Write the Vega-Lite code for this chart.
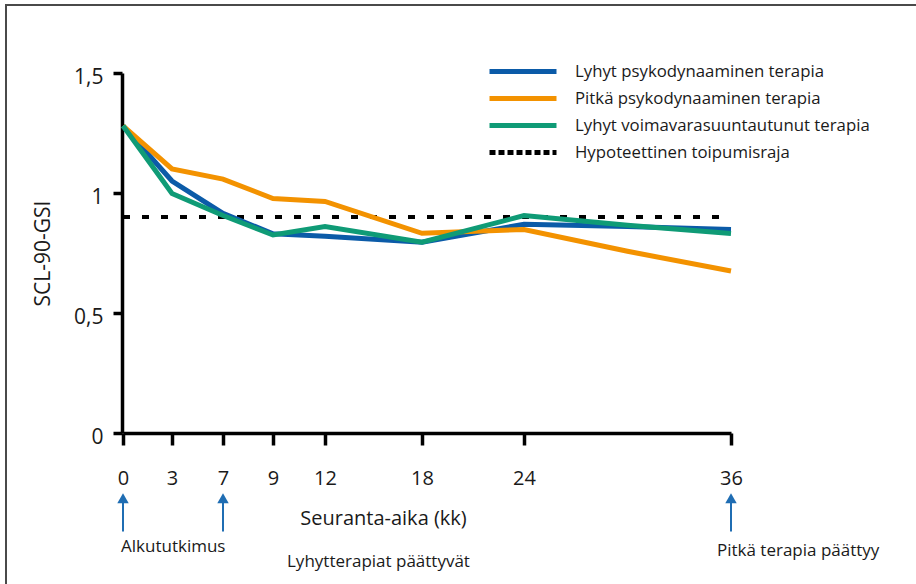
{
  "$schema": "https://vega.github.io/schema/vega-lite/v6.json",
  "width": 912,
  "height": 582,
  "autosize": "none",
  "padding": {"left": 6, "top": 5, "right": 0, "bottom": 0},
  "background": "white",
  "config": {
    "view": {"stroke": "#4a4a4a", "strokeWidth": 2},
    "font": "Open Sans",
    "text": {"font": "Open Sans", "color": "#1a1a1a"}
  },
  "datasets": {
    "series": [
      {"month": 0, "group": "Lyhyt psykodynaaminen terapia", "gsi": 1.28},
      {"month": 3, "group": "Lyhyt psykodynaaminen terapia", "gsi": 1.05},
      {"month": 7, "group": "Lyhyt psykodynaaminen terapia", "gsi": 0.915},
      {"month": 9, "group": "Lyhyt psykodynaaminen terapia", "gsi": 0.83},
      {"month": 12, "group": "Lyhyt psykodynaaminen terapia", "gsi": 0.82},
      {"month": 18, "group": "Lyhyt psykodynaaminen terapia", "gsi": 0.795},
      {"month": 24, "group": "Lyhyt psykodynaaminen terapia", "gsi": 0.87},
      {"month": 30, "group": "Lyhyt psykodynaaminen terapia", "gsi": 0.86},
      {"month": 36, "group": "Lyhyt psykodynaaminen terapia", "gsi": 0.848},
      {"month": 0, "group": "Pitkä psykodynaaminen terapia", "gsi": 1.28},
      {"month": 3, "group": "Pitkä psykodynaaminen terapia", "gsi": 1.1},
      {"month": 7, "group": "Pitkä psykodynaaminen terapia", "gsi": 1.058},
      {"month": 9, "group": "Pitkä psykodynaaminen terapia", "gsi": 0.977},
      {"month": 12, "group": "Pitkä psykodynaaminen terapia", "gsi": 0.965},
      {"month": 18, "group": "Pitkä psykodynaaminen terapia", "gsi": 0.832},
      {"month": 24, "group": "Pitkä psykodynaaminen terapia", "gsi": 0.848},
      {"month": 30, "group": "Pitkä psykodynaaminen terapia", "gsi": 0.757},
      {"month": 36, "group": "Pitkä psykodynaaminen terapia", "gsi": 0.675},
      {"month": 0, "group": "Lyhyt voimavarasuuntautunut terapia", "gsi": 1.28},
      {"month": 3, "group": "Lyhyt voimavarasuuntautunut terapia", "gsi": 0.998},
      {"month": 7, "group": "Lyhyt voimavarasuuntautunut terapia", "gsi": 0.906},
      {"month": 9, "group": "Lyhyt voimavarasuuntautunut terapia", "gsi": 0.825},
      {"month": 12, "group": "Lyhyt voimavarasuuntautunut terapia", "gsi": 0.86},
      {"month": 18, "group": "Lyhyt voimavarasuuntautunut terapia", "gsi": 0.795},
      {"month": 24, "group": "Lyhyt voimavarasuuntautunut terapia", "gsi": 0.906},
      {"month": 30, "group": "Lyhyt voimavarasuuntautunut terapia", "gsi": 0.866},
      {"month": 36, "group": "Lyhyt voimavarasuuntautunut terapia", "gsi": 0.831}
    ],
    "threshold": [
      {"group": "Hypoteettinen toipumisraja", "from": 0, "to": 36, "gsi": 0.9}
    ],
    "events": [
      {"month": 0, "event": "Alkututkimus"},
      {"month": 7, "event": "Lyhytterapiat päättyvät"},
      {"month": 36, "event": "Pitkä terapia päättyy"}
    ]
  },
  "layer": [
    {
      "data": {"name": "threshold"},
      "mark": {"type": "rule", "strokeWidth": 4, "strokeDash": [7, 12]},
      "encoding": {
        "x": {"field": "from", "type": "quantitative"},
        "x2": {"field": "to"},
        "y": {"field": "gsi", "type": "quantitative"},
        "color": {"field": "group", "type": "nominal"}
      }
    },
    {
      "data": {"name": "series"},
      "mark": {"type": "line", "strokeWidth": 5},
      "encoding": {
        "x": {
          "field": "month",
          "type": "quantitative",
          "scale": {"domain": [0, 3, 7, 9, 12, 18, 24, 36], "range": [117, 166, 217, 267, 319, 416, 518, 725], "nice": false, "zero": false},
          "axis": {
            "orient": "bottom",
            "offset": -154,
            "values": [0, 3, 7, 9, 12, 18, 24, 36],
            "grid": false,
            "domainColor": "#000000",
            "domainWidth": 3.5,
            "tickColor": "#000000",
            "tickWidth": 3.5,
            "tickSize": 12,
            "labelFont": "Open Sans",
            "labelFontSize": 20,
            "labelColor": "#1a1a1a",
            "labelPadding": 23,
            "labelFlush": false,
            "title": "Seuranta-aika (kk)",
            "titleFont": "Open Sans",
            "titleFontSize": 20,
            "titleFontWeight": "normal",
            "titleColor": "#1a1a1a",
            "titleX": 377,
            "titleY": 85,
            "titleBaseline": "middle",
            "titleAlign": "center"
          }
        },
        "y": {
          "field": "gsi",
          "type": "quantitative",
          "scale": {"domain": [0, 1.5], "range": [428, 68], "nice": false, "zero": false},
          "axis": {
            "orient": "left",
            "offset": -116,
            "values": [0, 0.5, 1, 1.5],
            "grid": false,
            "domainColor": "#000000",
            "domainWidth": 3.5,
            "tickColor": "#000000",
            "tickWidth": 3.5,
            "tickSize": 9,
            "labelFont": "Open Sans",
            "labelFontSize": 21,
            "labelColor": "#1a1a1a",
            "labelPadding": 10,
            "labelOffset": 4,
            "labelExpr": "replace(toString(datum.value), '.', ',')",
            "title": "SCL-90-GSI",
            "titleFont": "Open Sans",
            "titleFontSize": 21,
            "titleFontWeight": "normal",
            "titleColor": "#1a1a1a",
            "titlePadding": 20
          }
        },
        "color": {
          "field": "group",
          "type": "nominal",
          "scale": {
            "domain": ["Lyhyt psykodynaaminen terapia", "Pitkä psykodynaaminen terapia", "Lyhyt voimavarasuuntautunut terapia", "Hypoteettinen toipumisraja"],
            "range": ["#0b5ba8", "#f39200", "#0f9b76", "#000000"]
          },
          "legend": {
            "orient": "none",
            "legendX": 481,
            "legendY": 56,
            "title": null,
            "padding": 0,
            "symbolType": "stroke",
            "symbolSize": 4489,
            "symbolStrokeWidth": 5,
            "labelFont": "Open Sans",
            "labelFontSize": 16.8,
            "labelColor": "#1a1a1a",
            "labelOffset": 16,
            "labelLimit": 400,
            "rowPadding": 6,
            "clipHeight": 21,
            "encode": {
              "symbols": {
                "update": {
                  "strokeDash": {"signal": "datum.value === 'Hypoteettinen toipumisraja' ? [6, 3] : [1, 0]"}
                }
              }
            }
          }
        }
      }
    },
    {
      "data": {"name": "events"},
      "mark": {"type": "rule", "color": "#1f6db3", "strokeWidth": 2},
      "encoding": {
        "x": {"field": "month", "type": "quantitative"},
        "y": {"datum": -0.41},
        "y2": {"datum": -0.29}
      }
    },
    {
      "data": {"name": "events"},
      "mark": {"type": "point", "shape": "triangle-up", "filled": true, "color": "#1f6db3", "size": 130, "opacity": 1},
      "encoding": {
        "x": {"field": "month", "type": "quantitative"},
        "y": {"datum": -0.272}
      }
    },
    {
      "data": {"name": "events"},
      "transform": [{"filter": "datum.event === 'Alkututkimus'"}],
      "mark": {"type": "text", "align": "left", "baseline": "middle", "dx": -2, "fontSize": 17},
      "encoding": {
        "x": {"field": "month", "type": "quantitative"},
        "y": {"datum": -0.476},
        "text": {"field": "event"}
      }
    },
    {
      "data": {"name": "events"},
      "transform": [{"filter": "datum.event === 'Lyhytterapiat päättyvät'"}],
      "mark": {"type": "text", "align": "left", "baseline": "middle", "dx": 64, "fontSize": 17},
      "encoding": {
        "x": {"field": "month", "type": "quantitative"},
        "y": {"datum": -0.537},
        "text": {"field": "event"}
      }
    },
    {
      "data": {"name": "events"},
      "transform": [{"filter": "datum.event === 'Pitkä terapia päättyy'"}],
      "mark": {"type": "text", "align": "left", "baseline": "middle", "dx": -14, "fontSize": 17},
      "encoding": {
        "x": {"field": "month", "type": "quantitative"},
        "y": {"datum": -0.49},
        "text": {"field": "event"}
      }
    }
  ]
}
